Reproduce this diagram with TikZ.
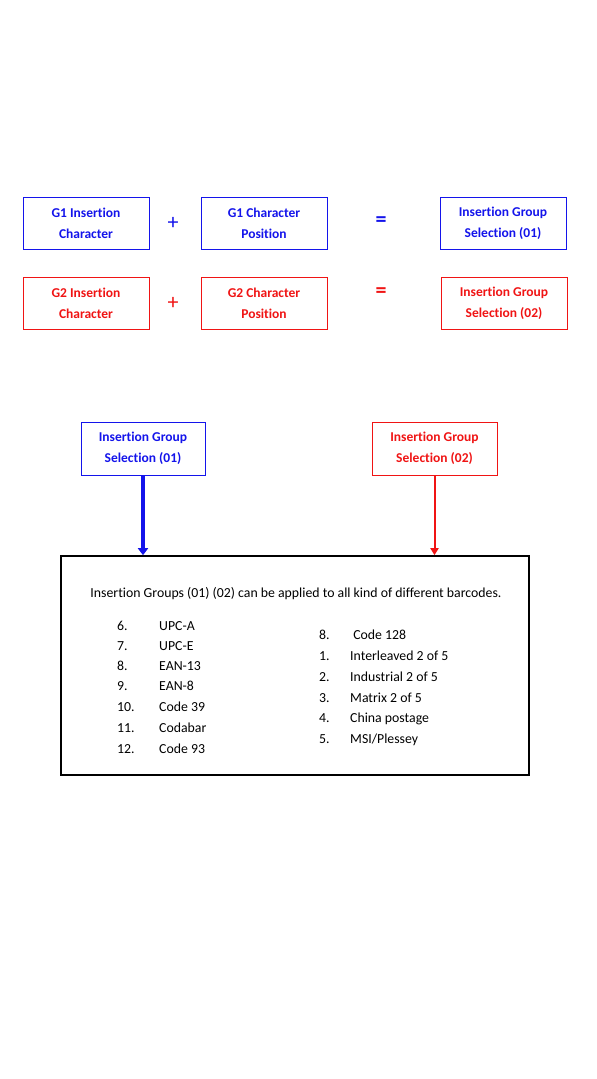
\documentclass[tikz,border=0pt]{standalone}
\usepackage{fontspec}
\setmainfont[Ligatures=NoCommon]{Carlito}
\usetikzlibrary{arrows.meta}
\definecolor{bblue}{RGB}{20,20,235}
\definecolor{rred}{RGB}{240,20,20}
\tikzset{
  boxb/.style={draw=bblue, text=bblue, line width=0.8pt, minimum width=126pt, minimum height=52pt, inner sep=0pt, align=center, font=\fontsize{13.5}{21}\selectfont\bfseries},
  boxr/.style={boxb, draw=rred, text=rred},
  op/.style={font=\fontsize{22}{22}\selectfont, inner sep=0pt},
  item/.style={anchor=base west, inner sep=0pt, font=\fontsize{13.8}{15}\selectfont},
}
\begin{document}
\begin{tikzpicture}[x=1pt,y=-1pt]
\useasboundingbox (0,0) rectangle (597,1079);
\fill[white] (0,0) rectangle (597,1079);
% top rows
\node[boxb] (g1a) at (86,223) {G1 Insertion\\Character};
\node[boxb] (g1b) at (264,223) {G1 Character\\Position};
\node[boxb] (g1c) at (503,223) {Insertion Group\\Selection (01)};
\node[op, text=bblue] (p1) at (173,223) {+};
\node[op, text=bblue, font=\fontsize{22}{22}\selectfont\bfseries] (e1) at (381,222) {=};
\node[boxr] (g2a) at (86,303) {G2 Insertion\\Character};
\node[boxr] (g2b) at (264,303) {G2 Character\\Position};
\node[boxr] (g2c) at (504,303) {Insertion Group\\Selection (02)};
\node[op, text=rred] (p2) at (173,303) {+};
\node[op, text=rred, font=\fontsize{22}{22}\selectfont\bfseries] (e2) at (381,293) {=};
% lower
\node[boxb, minimum width=124pt, minimum height=53pt] (s1) at (143,448.5) {Insertion Group\\Selection (01)};
\node[boxr, minimum width=125pt, minimum height=53pt] (s2) at (434.5,448.5) {Insertion Group\\Selection (02)};
\node[draw=black, line width=1.6pt, minimum width=468pt, minimum height=219pt, inner sep=0pt] (big) at (295,665.5) {};
\draw[bblue, line width=3.2pt, -{Triangle[length=7pt,width=10pt]}] (s1.south) -- (s1.south |- big.north);
\draw[rred, line width=2pt, -{Triangle[length=7pt,width=8pt]}] (s2.south) -- (s2.south |- big.north);
\node[anchor=base, inner sep=0pt, font=\fontsize{13.8}{15}\selectfont] (head) at (296,597) {Insertion Groups (01) (02) can be applied to all kind of different barcodes.};
% left list
\foreach \n/\t/\y in {6./UPC-A/630, 7./UPC-E/650, 8./EAN-13/670, 9./EAN-8/690, 10./Code 39/711, 11./Codabar/732, 12./Code 93/753}{
  \node[item] at (117,\y) {\n};
  \node[item] at (159,\y) {\t};
}
\foreach \n/\t/\y in {8./{\ Code 128}/639, 1./{Interleaved 2 of 5}/660, 2./{Industrial 2 of 5}/681, 3./{Matrix 2 of 5}/702, 4./{China postage}/722, 5./{MSI/Plessey}/743}{
  \node[item] at (319,\y) {\n};
  \node[item] at (350,\y) {\t};
}
\end{tikzpicture}
\end{document}
